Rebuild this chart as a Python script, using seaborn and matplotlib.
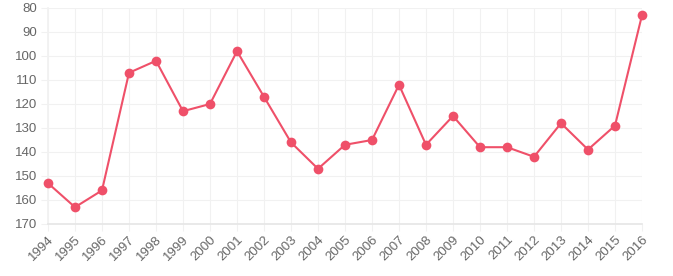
import matplotlib
matplotlib.use("Agg")
import matplotlib.pyplot as plt
import seaborn as sns
import pandas as pd

years = [str(y) for y in range(1994, 2017)]
values = [153, 163, 156, 107, 102, 123, 120, 98, 117, 136, 147, 137, 135,
          112, 137, 125, 138, 138, 142, 128, 139, 129, 83]
y_ticks = [80, 90, 100, 110, 120, 130, 140, 150, 160, 170]

sns.set_theme(style="white")
plt.rcParams['font.family'] = ['Liberation Sans', 'DejaVu Sans']

df = pd.DataFrame({"year": years, "value": values})
df["pos"] = range(len(df))

fig = plt.figure(figsize=(6.73, 2.76), dpi=100)
ax = fig.add_axes([48/673, 1 - 224/276, (642-48)/673, (224-8)/276])

color = "#ef5069"
sns.lineplot(data=df, x="pos", y="value", ax=ax, color=color, linewidth=1.5,
             marker="o", markersize=7, markeredgewidth=0, markerfacecolor=color,
             clip_on=False, zorder=3)

ax.set_xlim(0, len(years) - 1)
ax.set_ylim(170, 80)
ax.set_xticks(range(len(years)))
ax.set_xticklabels(years, rotation=45, ha="right", rotation_mode="anchor")
ax.set_yticks(y_ticks)
ax.set_xlabel("")
ax.set_ylabel("")

grid_c = "#f1f1f1"
ax.grid(True, color=grid_c, linewidth=0.8)
for s in ax.spines.values():
    s.set_visible(False)
ax.spines["bottom"].set_visible(True)
ax.spines["bottom"].set_color("#e6e6e6")
ax.spines["left"].set_visible(True)
ax.spines["left"].set_color("#f1f1f1")
ax.tick_params(axis="both", colors=grid_c, labelcolor="#666666", labelsize=9.5,
               length=5, width=0.8, pad=3, bottom=True, left=True)
ax.tick_params(axis="x", pad=2)

fig.savefig("out.png", dpi=100)
